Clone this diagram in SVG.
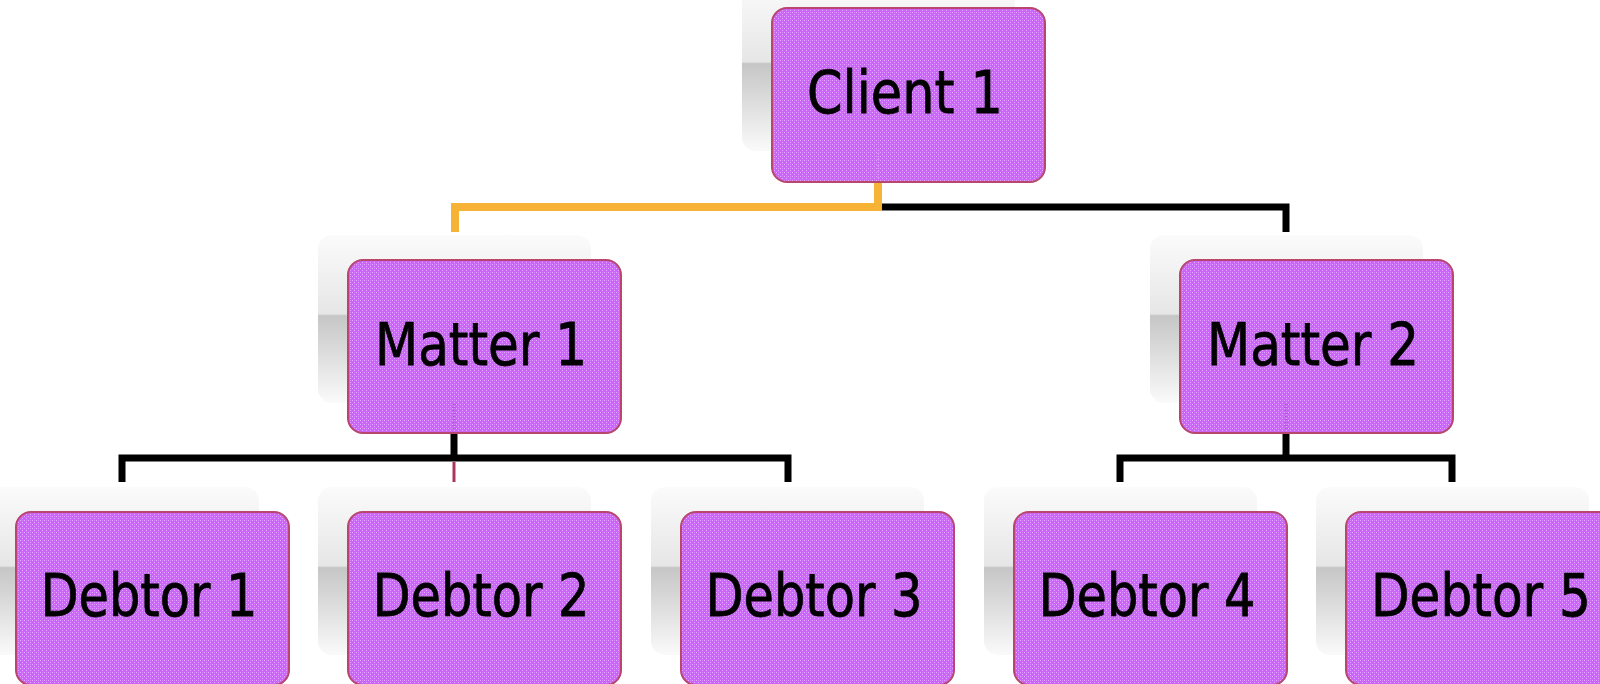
<svg xmlns="http://www.w3.org/2000/svg" width="1600" height="684" viewBox="0 0 1600 684">
  <defs>
    <linearGradient id="shadowGrad" x1="0" y1="0" x2="0" y2="1">
      <stop offset="0" stop-color="#fbfbfb"/>
      <stop offset="0.47" stop-color="#e6e6e6"/>
      <stop offset="0.48" stop-color="#c6c6c6"/>
      <stop offset="1" stop-color="#fafafa"/>
    </linearGradient>
    <pattern id="tex" width="4" height="4" patternUnits="userSpaceOnUse">
      <rect width="4" height="4" fill="#ca65f8"/>
      <rect x="0" y="0" width="1" height="1" fill="#e4aafd"/>
      <rect x="2" y="2" width="1" height="1" fill="#e4aafd"/>
      <rect x="2" y="0" width="1" height="1" fill="#d684fa"/>
    </pattern>
  </defs>
  <style>
    .shadow { fill: url(#shadowGrad); }
    .box { fill: url(#tex); stroke: #b8466f; stroke-width: 2; }
    .label { font-family: "DejaVu Sans", "Liberation Sans", sans-serif; font-size: 58px; fill: #000; stroke: #000; stroke-width: 0.8; text-anchor: middle; }
    .conn { fill: none; stroke: #000; stroke-width: 7; stroke-linejoin: miter; stroke-linecap: butt; }
    .connY { fill: none; stroke: #f6b336; stroke-width: 8; stroke-linejoin: miter; stroke-linecap: butt; }
    .connM { fill: none; stroke: #a8365e; stroke-width: 3; }
    .mark { fill: none; stroke: #8e4aa8; stroke-width: 3; stroke-dasharray: 1 2; opacity: 0.5; }
  </style>

  <!-- shadows -->
  <g id="shadows">
    <rect class="shadow" x="742" y="-17" width="273" height="168" rx="14"/>
    <rect class="shadow" x="318" y="235" width="273" height="168" rx="14"/>
    <rect class="shadow" x="1150" y="235" width="273" height="168" rx="14"/>
    <rect class="shadow" x="-14" y="487" width="273" height="168" rx="14"/>
    <rect class="shadow" x="318" y="487" width="273" height="168" rx="14"/>
    <rect class="shadow" x="651" y="487" width="273" height="168" rx="14"/>
    <rect class="shadow" x="984" y="487" width="273" height="168" rx="14"/>
    <rect class="shadow" x="1316" y="487" width="273" height="168" rx="14"/>
  </g>

  <!-- connectors -->
  <g id="connectors">
    <path class="conn" d="M878,207 H1286 V232"/>
    <path class="connY" d="M878,182 V207 H455 V232"/>
    <path class="conn" d="M454,433 V458"/>
    <path class="conn" d="M122,482 V458 H788 V482"/>
    <path class="connM" d="M454,462 V482"/>
    <path class="conn" d="M1286,433 V458"/>
    <path class="conn" d="M1120,482 V458 H1452 V482"/>
  </g>

  <g id="client1">
    <rect class="box" x="772" y="8" width="273" height="174" rx="15"/>
    <path class="mark" d="M878,150 V178" style="stroke:#e0a0ff"/>
    <text class="label" x="905" y="113" textLength="196" lengthAdjust="spacingAndGlyphs">Client 1</text>
  </g>

  <g id="matter1">
    <rect class="box" x="348" y="260" width="273" height="173" rx="15"/>
    <path class="mark" d="M454,404 V431"/>
    <text class="label" x="481" y="365" textLength="212" lengthAdjust="spacingAndGlyphs">Matter 1</text>
  </g>

  <g id="matter2">
    <rect class="box" x="1180" y="260" width="273" height="173" rx="15"/>
    <path class="mark" d="M1286,404 V431"/>
    <text class="label" x="1313" y="365" textLength="212" lengthAdjust="spacingAndGlyphs">Matter 2</text>
  </g>

  <g id="debtor1">
    <rect class="box" x="16" y="512" width="273" height="173" rx="15"/>
    <text class="label" x="149" y="616" textLength="217" lengthAdjust="spacingAndGlyphs">Debtor 1</text>
  </g>

  <g id="debtor2">
    <rect class="box" x="348" y="512" width="273" height="173" rx="15"/>
    <text class="label" x="481" y="616" textLength="217" lengthAdjust="spacingAndGlyphs">Debtor 2</text>
  </g>

  <g id="debtor3">
    <rect class="box" x="681" y="512" width="273" height="173" rx="15"/>
    <text class="label" x="814" y="616" textLength="217" lengthAdjust="spacingAndGlyphs">Debtor 3</text>
  </g>

  <g id="debtor4">
    <rect class="box" x="1014" y="512" width="273" height="173" rx="15"/>
    <text class="label" x="1147" y="616" textLength="217" lengthAdjust="spacingAndGlyphs">Debtor 4</text>
  </g>

  <g id="debtor5">
    <rect class="box" x="1346" y="512" width="273" height="173" rx="15"/>
    <text class="label" x="1481" y="616" textLength="220" lengthAdjust="spacingAndGlyphs">Debtor 5</text>
  </g>
</svg>
